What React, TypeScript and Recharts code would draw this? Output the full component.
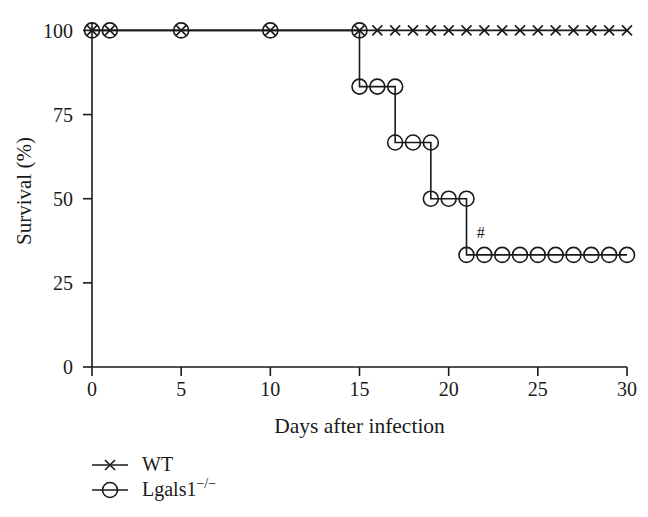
import { LineChart, Line, XAxis, YAxis, ReferenceDot } from "recharts";

// Kaplan-Meier style survival after infection
const wtDays = [0, 1, 5, 10, 15, 16, 17, 18, 19, 20, 21, 22, 23, 24, 25, 26, 27, 28, 29, 30];
const wtSurvival = [100, 100, 100, 100, 100, 100, 100, 100, 100, 100, 100, 100, 100, 100, 100, 100, 100, 100, 100, 100];

const koDays = [0, 1, 5, 10, 15, 15, 16, 17, 17, 18, 19, 19, 20, 21, 21, 22, 23, 24, 25, 26, 27, 28, 29, 30];
const koSurvival = [
  100, 100, 100, 100, 100, 83.3, 83.3, 83.3, 66.7, 66.7, 66.7, 50, 50, 50, 33.3, 33.3, 33.3, 33.3, 33.3,
  33.3, 33.3, 33.3, 33.3, 33.3,
];

const xTicks = [0, 5, 10, 15, 20, 25, 30];
const yTicks = [0, 25, 50, 75, 100];

const INK = "#1a1a1a";
const FONT = "'Liberation Serif', 'DejaVu Serif', serif";

const wtData = wtDays.map((d, i) => ({ day: d, survival: wtSurvival[i] }));
const koData = koDays.map((d, i) => ({ day: d, survival: koSurvival[i] }));

const CrossDot = (props: any) => {
  const { cx, cy, index } = props;
  if (cx == null || cy == null) return null;
  const s = 5;
  return (
    <path
      key={`x-${index}`}
      d={`M${cx - s},${cy - s}L${cx + s},${cy + s}M${cx - s},${cy + s}L${cx + s},${cy - s}`}
      stroke={INK}
      strokeWidth={1.6}
      fill="none"
    />
  );
};

const CircleDot = (props: any) => {
  const { cx, cy, index } = props;
  if (cx == null || cy == null) return null;
  return <circle key={`o-${index}`} cx={cx} cy={cy} r={7.5} stroke={INK} strokeWidth={1.6} fill="none" />;
};

const legendItems = [
  { name: "WT", marker: "cross" },
  { name: "Lgals1", sup: "\u2212/\u2212", marker: "circle" },
];

export default function App() {
  return (
    <div style={{ position: "absolute", left: 0, top: 0, width: 648, height: 517, background: "#fff" }}>
      <LineChart width={648} height={517} margin={{ top: 22, right: 21, bottom: 80, left: 12 }}>
        <XAxis
          type="number"
          dataKey="day"
          domain={[0, 30]}
          ticks={xTicks}
          height={70}
          tickSize={9}
          tickMargin={6}
          axisLine={{ stroke: INK, strokeWidth: 1.6 }}
          tickLine={{ stroke: INK, strokeWidth: 1.6 }}
          tick={{ fill: INK, fontSize: 20, fontFamily: FONT }}
          label={({ viewBox }: any) => (
            <text
              x={viewBox.x + viewBox.width / 2}
              y={viewBox.y + 66}
              textAnchor="middle"
              fill={INK}
              fontSize={21.5}
              fontFamily={FONT}
            >
              Days after infection
            </text>
          )}
        />
        <YAxis
          type="number"
          dataKey="survival"
          domain={[0, 102.5]}
          ticks={yTicks}
          width={80}
          tickSize={9}
          tickMargin={10}
          axisLine={{ stroke: INK, strokeWidth: 1.6 }}
          tickLine={{ stroke: INK, strokeWidth: 1.6 }}
          tick={{ fill: INK, fontSize: 20, fontFamily: FONT }}
          label={({ viewBox }: any) => {
            const cx = viewBox.x + 12;
            const cy = 191;
            return (
              <text
                x={cx}
                y={cy}
                transform={`rotate(-90, ${cx}, ${cy})`}
                textAnchor="middle"
                dominantBaseline="central"
                fill={INK}
                fontSize={21}
                fontFamily={FONT}
              >
                Survival (%)
              </text>
            );
          }}
        />
        <Line
          data={wtData}
          dataKey="survival"
          name="WT"
          type="linear"
          stroke={INK}
          strokeWidth={1.6}
          dot={CrossDot}
          activeDot={false}
          isAnimationActive={false}
        />
        <Line
          data={koData}
          dataKey="survival"
          name="Lgals1-/-"
          type="stepAfter"
          stroke={INK}
          strokeWidth={1.6}
          dot={CircleDot}
          activeDot={false}
          isAnimationActive={false}
        />
        <ReferenceDot
          x={21.8}
          y={40}
          r={0}
          fill="none"
          stroke="none"
          label={{ value: "#", position: "center", fill: INK, fontSize: 16, fontFamily: FONT }}
        />
      </LineChart>
      <div style={{ position: "absolute", left: 90, top: 452, fontFamily: FONT, fontSize: 20, color: INK }}>
        {legendItems.map((item) => (
          <div key={item.name} style={{ display: "flex", alignItems: "center", height: 25 }}>
            <svg width={40} height={20} style={{ marginRight: 12 }}>
              <line x1={2} y1={10} x2={38} y2={10} stroke={INK} strokeWidth={1.6} />
              {item.marker === "cross" ? (
                <path d="M15,5L25,15M15,15L25,5" stroke={INK} strokeWidth={1.6} fill="none" />
              ) : (
                <circle cx={20} cy={10} r={7.5} stroke={INK} strokeWidth={1.6} fill="none" />
              )}
            </svg>
            <span style={{ lineHeight: "25px" }}>
              {item.name}
              {item.sup ? <sup style={{ fontSize: 14, lineHeight: 0 }}>{item.sup}</sup> : null}
            </span>
          </div>
        ))}
      </div>
    </div>
  );
}
